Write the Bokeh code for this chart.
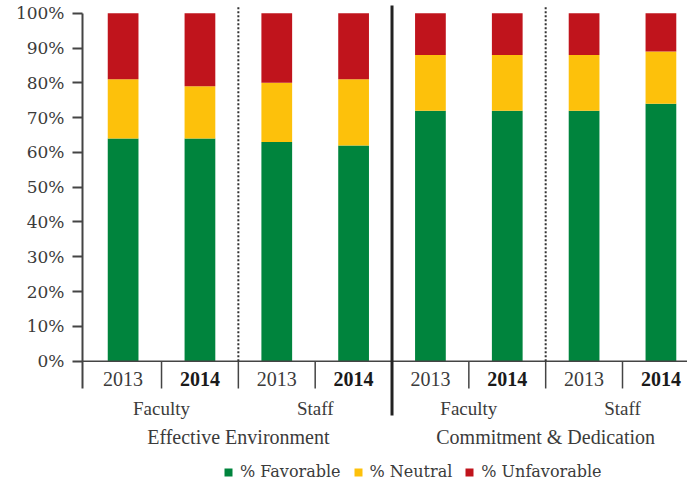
from bokeh.plotting import figure
from bokeh.models import ColumnDataSource, Range1d, FixedTicker, PrintfTickFormatter
from bokeh.core.properties import value
from bokeh.embed import file_html
from bokeh.resources import INLINE

# ---- data ----
years = ["2013", "2014", "2013", "2014", "2013", "2014", "2013", "2014"]
groups = ["Faculty", "Faculty", "Staff", "Staff", "Faculty", "Faculty", "Staff", "Staff"]
sections = ["Effective Environment"] * 4 + ["Commitment & Dedication"] * 4
favorable = [64, 64, 63, 62, 72, 72, 72, 74]
neutral = [17, 15, 17, 19, 16, 16, 16, 15]
unfavorable = [19, 21, 20, 19, 12, 12, 12, 11]
series = ["favorable", "neutral", "unfavorable"]
series_labels = ["% Favorable", "% Neutral", "% Unfavorable"]
colors = ["#00843d", "#fdc10b", "#c0141c"]
y_ticks = [0, 10, 20, 30, 40, 50, 60, 70, 80, 90, 100]

FONT = value("Liberation Serif")
AXIS_FONT = "DejaVu Serif"
TEXT = "#3b3b3b"

n = len(years)
centers = [i + 0.5 for i in range(n)]

x_start, x_end = -0.0286, 7.846
y_start, y_end = -34.86, 103.65
line_top = 102.2

p = figure(width=687, height=482, output_backend="svg", toolbar_location=None,
           x_range=Range1d(x_start, x_end), y_range=Range1d(y_start, y_end),
           x_axis_location=None, min_border_left=82, min_border_right=0,
           min_border_top=0, min_border_bottom=0)
p.outline_line_color = None
p.xgrid.visible = False
p.ygrid.visible = False
p.background_fill_color = "white"

src = ColumnDataSource(dict(x=centers, favorable=favorable, neutral=neutral,
                            unfavorable=unfavorable))
rs = p.vbar_stack(series, x="x", width=0.4, source=src, color=colors,
                  line_color=None, legend_label=series_labels)

# y axis
ya = p.yaxis[0]
ya.ticker = FixedTicker(ticks=y_ticks)
ya.formatter = PrintfTickFormatter(format="%d%%")
ya.bounds = (-7.84, 100)
ya.major_tick_out = 10
ya.major_tick_in = 0
ya.minor_tick_line_color = None
ya.major_label_standoff = 8
ya.major_label_text_font = AXIS_FONT
ya.major_label_text_font_size = "17px"
ya.major_label_text_color = TEXT
ya.axis_line_color = "#444444"
ya.axis_line_width = 2
ya.major_tick_line_color = "#444444"
ya.major_tick_line_width = 2

# x axis line and category separators (derived from category structure)
p.segment(x0=[x_start], y0=[0], x1=[x_end], y1=[0], line_color="#444444", line_width=1.5)
sep_short = []
sep_dotted = []
sep_solid = []
for i in range(1, n + 1):
    if i < n and sections[i] != sections[i - 1]:
        sep_solid.append(i)
    elif i < n and groups[i] != groups[i - 1]:
        sep_short.append(i)
        sep_dotted.append(i)
    else:
        sep_short.append(i)
p.segment(x0=sep_short, y0=[0] * len(sep_short), x1=sep_short, y1=[-7.84] * len(sep_short),
          line_color="#444444", line_width=1.5)
p.segment(x0=sep_dotted, y0=[0] * len(sep_dotted), x1=sep_dotted, y1=[line_top] * len(sep_dotted),
          line_color="#333333", line_width=2, line_dash="2 2")
p.segment(x0=sep_solid, y0=[-15.6] * len(sep_solid), x1=sep_solid, y1=[line_top] * len(sep_solid),
          line_color="#222222", line_width=3)

# year labels
ysrc = ColumnDataSource(dict(x=centers, y=[-5.0] * n, text=years,
                             style=["bold" if t == "2014" else "normal" for t in years],
                             color=["#1a1a1a" if t == "2014" else TEXT for t in years]))
p.text(x="x", y="y", text="text", source=ysrc, text_align="center", text_baseline="middle",
       text_font=FONT, text_font_size="20px", text_font_style="style", text_color="color")

# group labels (Faculty / Staff)
gx, gt = [], []
i = 0
while i < n:
    j = i
    while j < n and groups[j] == groups[i] and sections[j] == sections[i]:
        j += 1
    gx.append((i + j) / 2)
    gt.append(groups[i])
    i = j
p.text(x=gx, y=[-13.6] * len(gx), text=gt, text_align="center", text_baseline="middle",
       text_font=FONT, text_font_size="19px", text_color=TEXT)

# section labels
sx, st = [], []
i = 0
while i < n:
    j = i
    while j < n and sections[j] == sections[i]:
        j += 1
    sx.append((i + j) / 2)
    st.append(sections[i])
    i = j
p.text(x=sx, y=[-21.9] * len(sx), text=st, text_align="center", text_baseline="middle",
       text_font=FONT, text_font_size="20px", text_color=TEXT)

# legend
lg = p.legend[0]
lg.orientation = "horizontal"
lg.location = (141, 1)
lg.padding = 0
lg.margin = 0
lg.spacing = 12
lg.glyph_width = 10
lg.glyph_height = 10
lg.label_standoff = 7
lg.label_height = 14
lg.label_text_font = AXIS_FONT
lg.label_text_font_size = "16px"
lg.label_text_color = TEXT
lg.border_line_color = None
lg.background_fill_alpha = 0

open("out.html", "w").write(file_html(p, INLINE))
